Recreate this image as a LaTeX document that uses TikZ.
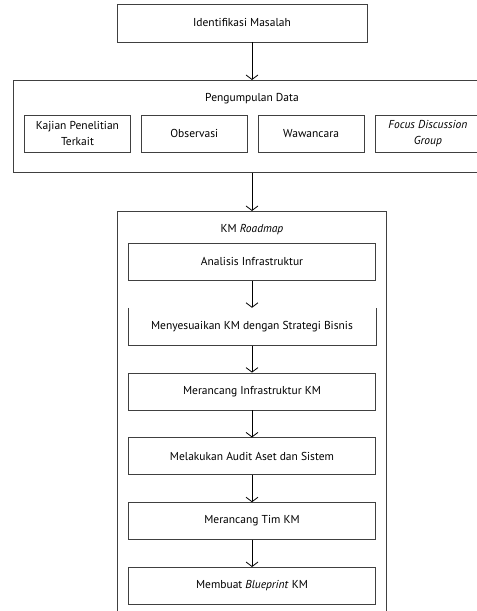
\documentclass[tikz,border=0pt]{standalone}
\usepackage{fontspec}
\setmainfont{PT Sans}
\usetikzlibrary{arrows.meta,positioning}
\tikzset{
  stepbox/.style = {draw=black!75, line width=0.8pt, align=center,
                    minimum width=247pt, minimum height=37pt, inner sep=3pt},
  subbox/.style  = {draw=black!75, line width=0.8pt, align=center,
                    minimum width=106pt, minimum height=37pt, inner sep=3pt},
  frame/.style   = {draw=black!75, line width=0.8pt, anchor=north, inner sep=0pt},
  title/.style   = {align=center, inner sep=0pt},
  arr/.style     = {-{Straight Barb[length=4.5pt,width=12pt]}, draw=black, line width=0.8pt},
}

\begin{document}
\begin{tikzpicture}[x=1pt, y=1pt, node distance=27pt and 10pt, font=\fontsize{11.5}{16}\selectfont]
  \useasboundingbox (0,0) rectangle (477,611);
  \node[stepbox, minimum width=250pt, minimum height=38pt] (ident) at (242,588) {Identifikasi Masalah};
  % data collection
  \node[frame, minimum width=478pt, minimum height=92pt] (data) at (252,531) {};
  \node[title] (datatitle) at (252,512) {Pengumpulan Data};
  \node[subbox] (kajian) at (77.5,477.5) {Kajian Penelitian\\Terkait};
  \node[subbox, right=of kajian] (obs) {Observasi};
  \node[subbox, right=of obs] (wawan) {Wawancara};
  \node[subbox, right=of wawan] (fgd) {\textit{Focus Discussion}\\\textit{Group}};
  % roadmap
  \node[frame, minimum width=269pt, minimum height=430pt] (km) at (252,400) {};
  \node[title] (kmtitle) at (252,381) {KM \textit{Roadmap}};
  \node[stepbox, anchor=north] (infra) at (252,368) {Analisis Infrastruktur};
  \node[stepbox, draw=none, below=of infra] (sesuai) {Menyesuaikan KM dengan Strategi Bisnis};
  \node[stepbox, below=of sesuai] (rancang) {Merancang Infrastruktur KM};
  \node[stepbox, below=of rancang] (audit) {Melakukan Audit Aset dan Sistem};
  \node[stepbox, below=of audit] (tim) {Merancang Tim KM};
  \node[stepbox, below=of tim] (blue) {Membuat \textit{Blueprint} KM};
  \draw[draw=black!75, line width=0.8pt] (sesuai.north west) -- (sesuai.south west)
    -- (sesuai.south east) -- (sesuai.north east);
  \draw[arr] (ident.south -| data.north) -- (data.north);
  \draw[arr] (data.south) -- (km.north);
  \foreach \a/\b in {infra/sesuai, sesuai/rancang, rancang/audit, audit/tim, tim/blue}
    \draw[arr] (\a) -- (\b);
\end{tikzpicture}
\end{document}
